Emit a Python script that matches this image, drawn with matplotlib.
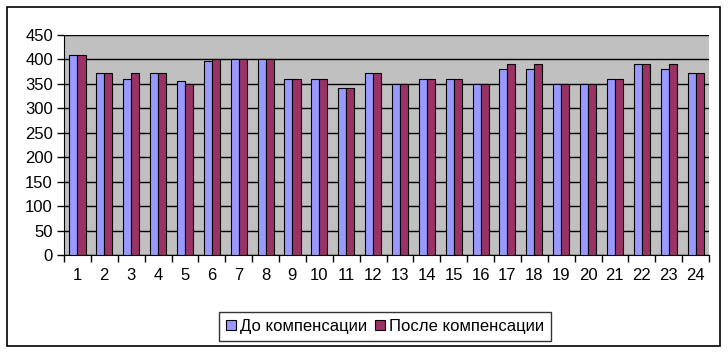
import matplotlib
matplotlib.use("Agg")
import matplotlib.pyplot as plt
from matplotlib.patches import Rectangle
import numpy as np

plt.rcParams['font.family'] = ['Liberation Sans', 'DejaVu Sans']

categories = [str(i) for i in range(1, 25)]
before = [409, 372, 360, 372, 356, 396, 400, 400, 360, 360, 342, 372,
          350, 360, 360, 350, 380, 380, 350, 350, 360, 390, 380, 372]
after = [409, 372, 372, 372, 350, 400, 400, 400, 360, 360, 342, 372,
         350, 360, 360, 350, 390, 390, 350, 350, 360, 390, 390, 372]
series_names = ["До компенсации", "После компенсации"]
colors = ["#9999FF", "#993366"]

W, H = 728, 353
fig = plt.figure(figsize=(W / 100, H / 100), dpi=100)
fig.patch.set_facecolor("white")

# outer border
fig.patches.append(Rectangle((7 / W, 1 - 346 / H), (720 - 7) / W, (346 - 7) / H,
                             transform=fig.transFigure, fill=False,
                             edgecolor="black", linewidth=1.2))

ax = fig.add_axes([64 / W, 1 - 255 / H, (709 - 64) / W, (255 - 35) / H])
ax.set_facecolor("#C0C0C0")

x = np.arange(len(categories))
bw = 0.3
b1 = ax.bar(x - bw / 2, before, bw, color=colors[0], edgecolor="black", linewidth=0.8,
            label=series_names[0], zorder=3)
b2 = ax.bar(x + bw / 2, after, bw, color=colors[1], edgecolor="black", linewidth=0.8,
            label=series_names[1], zorder=3)

ax.set_xlim(-0.5, len(categories) - 0.5)
ax.set_ylim(0, 450)
ax.set_yticks(np.arange(0, 451, 50))
ax.yaxis.grid(True, color="black", linewidth=1.0, zorder=1)
ax.set_axisbelow(True)

ax.set_xticks(x)
ax.set_xticklabels(categories)
ax.set_xticks(np.arange(-0.5, len(categories), 1), minor=True)
ax.tick_params(axis="x", which="major", length=0, pad=9, labelsize=12)
ax.tick_params(axis="x", which="minor", length=5, width=1, direction="out")
ax.tick_params(axis="y", length=5, width=1, direction="out", labelsize=12, pad=3)

for s in ["top", "right"]:
    ax.spines[s].set_visible(False)
ax.spines["left"].set_color("black")
ax.spines["bottom"].set_color("black")

leg = fig.legend(handles=[b1, b2], labels=series_names, loc="center",
                 bbox_to_anchor=((215 + 555) / 2 / W, 1 - (311 + 342) / 2 / H),
                 ncol=2, frameon=True, fancybox=False, fontsize=12,
                 handlelength=0.6, handleheight=0.6, handletextpad=0.25,
                 columnspacing=0.5, borderpad=0.4, borderaxespad=0)
leg.get_frame().set_edgecolor("black")
leg.get_frame().set_linewidth(1.0)

fig.savefig("out.png", dpi=100)
